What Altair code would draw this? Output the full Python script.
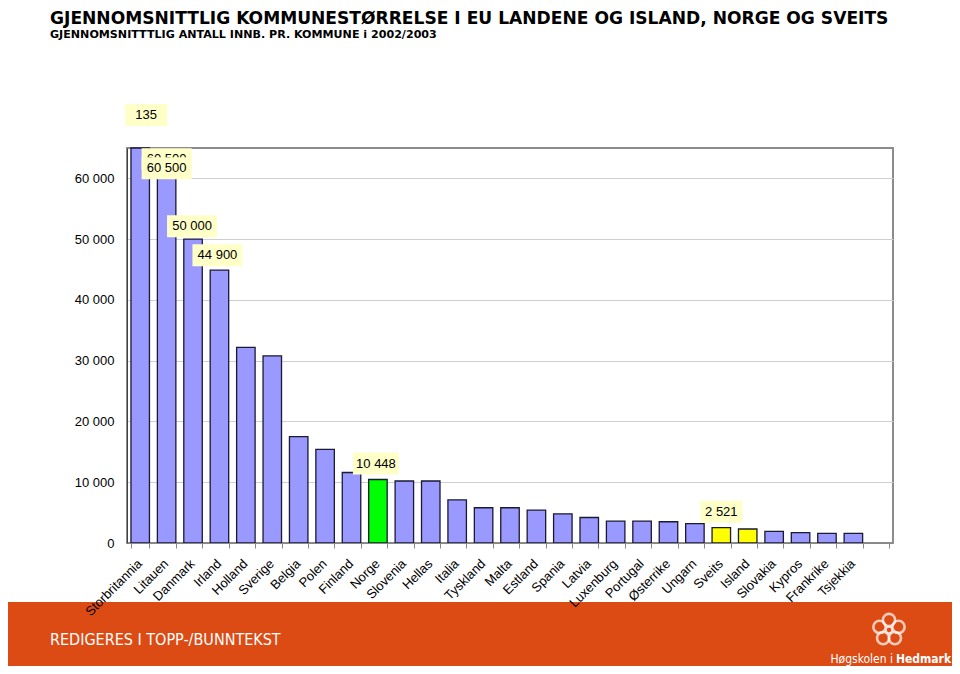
import altair as alt
import pandas as pd
import numpy as np

# ---------------- data ----------------
COUNTRIES = ["Storbritannia", "Litauen", "Danmark", "Irland", "Holland", "Sverige",
             "Belgia", "Polen", "Finland", "Norge", "Slovenia", "Hellas", "Italia",
             "Tyskland", "Malta", "Estland", "Spania", "Latvia", "Luxenburg",
             "Portugal", "Østerrike", "Ungarn", "Sveits", "Island", "Slovakia",
             "Kypros", "Frankrike", "Tsjekkia"]
VALUES = [135000, 60500, 50000, 44900, 32200, 30800, 17500, 15400, 11600, 10448,
          10200, 10200, 7100, 5800, 5800, 5400, 4800, 4200, 3600, 3600, 3500,
          3200, 2521, 2300, 1900, 1700, 1600, 1600]
Y_TICKS = [0, 10000, 20000, 30000, 40000, 50000, 60000]

# data labels drawn on the chart (category, text)
LABEL_CATS = ["Storbritannia", "Litauen", "Litauen", "Danmark", "Irland", "Norge", "Sveits"]
LABEL_TEXTS = ["135", "60 500", "60 500", "50 000", "44 900", "10 448", "2 521"]

TITLE = "GJENNOMSNITTLIG KOMMUNESTØRRELSE I EU LANDENE OG ISLAND, NORGE OG SVEITS"
SUBTITLE = "GJENNOMSNITTTLIG ANTALL INNB. PR. KOMMUNE i 2002/2003"
FOOTER = "REDIGERES I TOPP-/BUNNTEKST"

# ---------------- styles ----------------
HIGHLIGHT = {"Norge": "#00FF00", "Sveits": "#FFFF00", "Island": "#FFFF00"}
BAR_COLOR = "#9999FF"
ORANGE = "#DC4B14"
YMAX = 65000
W, H = 766, 395
# per-label (dx, dy, box width) offsets in pixels
LABEL_STYLE = [(6, -33, 42), (0, -16, 50), (0, -7, 50), (-1, -13, 50),
               (-2, -15, 50), (-2, -16, 46), (0, -16, 42)]

df = pd.DataFrame({"land": COUNTRIES, "verdi": VALUES})
df["farge"] = [HIGHLIGHT.get(c, BAR_COLOR) for c in COUNTRIES]

x_domain = COUNTRIES + [" "]
x_enc = alt.X("land:N", sort=x_domain,
              scale=alt.Scale(domain=x_domain, paddingInner=0.3, paddingOuter=0.15),
              axis=alt.Axis(title=None, labelAngle=-45, labelFont="Liberation Sans",
                            labelFontSize=13, labelColor="black", labelPadding=9,
                            labelOffset=-5, zindex=2,
                            labelLimit=0, tickBand="extent", tickColor="#888888",
                            tickSize=5, domainColor="#888888", grid=False))
y_scale = alt.Scale(domain=[0, YMAX], clamp=True, nice=False, zero=True)
y_enc = alt.Y("verdi:Q", scale=y_scale,
              axis=alt.Axis(title=None, values=Y_TICKS, grid=True, gridColor="#CFCFCF",
                            gridWidth=1, ticks=False, labelPadding=13,
                            labelFont="Liberation Sans", labelFontSize=13,
                            labelColor="black", domainColor="#404040",
                            labelExpr="replace(format(datum.value, ',d'), regexp(',', 'g'), ' ')"))

bars = alt.Chart(df).mark_bar(stroke="#1a1a33", strokeWidth=1.3).encode(
    x=x_enc, y=y_enc, color=alt.Color("farge:N", scale=None))

layers = [bars]

for i, (cat, txt) in enumerate(zip(LABEL_CATS, LABEL_TEXTS)):
    dx, dy, bw = LABEL_STYLE[i]
    ldf = pd.DataFrame({"land": [cat], "verdi": [VALUES[COUNTRIES.index(cat)]], "tekst": [txt]})
    box = alt.Chart(ldf).mark_tick(color="#FFFFC8", opacity=1, size=bw, thickness=22,
                                   orient="horizontal", xOffset=dx, yOffset=dy).encode(
        x=alt.X("land:N", sort=x_domain), y=alt.Y("verdi:Q"))
    lab = alt.Chart(ldf).mark_text(font="Liberation Sans", fontSize=13, color="black",
                                   align="center", baseline="middle",
                                   dx=dx, dy=dy).encode(
        x=alt.X("land:N", sort=x_domain), y=alt.Y("verdi:Q"), text="tekst:N")
    layers += [box, lab]

# ---------------- page decorations ----------------
band = alt.Chart(pd.DataFrame({"a": [0]})).mark_rect(color=ORANGE).encode(
    x=alt.value(-119), x2=alt.value(W + 59), y=alt.value(454), y2=alt.value(530))

title = alt.Chart(pd.DataFrame({"t": [TITLE]})).mark_text(
    font="DejaVu Sans", fontWeight="bold", fontSize=17.1, align="left",
    baseline="alphabetic", color="black", limit=0).encode(
    x=alt.value(-77), y=alt.value(-124), text="t:N")
subtitle = alt.Chart(pd.DataFrame({"t": [SUBTITLE]})).mark_text(
    font="DejaVu Sans", fontWeight="bold", fontSize=11.1, align="left",
    baseline="alphabetic", color="black", limit=0).encode(
    x=alt.value(-77), y=alt.value(-110), text="t:N")
footer = alt.Chart(pd.DataFrame({"t": [FOOTER]})).mark_text(
    font="DejaVu Sans Condensed, Liberation Sans", fontSize=16, align="left",
    baseline="alphabetic", color="white").encode(
    x=alt.value(-77), y=alt.value(497), text="t:N")
logo1 = alt.Chart(pd.DataFrame({"t": ["Høgskolen i"]})).mark_text(
    font="DejaVu Sans Condensed, Liberation Sans", fontSize=12, align="right",
    baseline="alphabetic", color="white").encode(
    x=alt.value(766), y=alt.value(515), text="t:N")
logo2 = alt.Chart(pd.DataFrame({"t": ["Hedmark"]})).mark_text(
    font="DejaVu Sans Condensed, Liberation Sans", fontWeight="bold", fontSize=12,
    align="left", baseline="alphabetic", color="white").encode(
    x=alt.value(769), y=alt.value(515), text="t:N")

ang = np.deg2rad(np.arange(5) * 72 - 90)
rings = []
for a in ang:
    rings.append(alt.Chart(pd.DataFrame({"a": [0]})).mark_point(
        shape="circle", filled=False, stroke="white", strokeWidth=2.6, size=150).encode(
        x=alt.value(float(762 + 10 * np.cos(a))), y=alt.value(float(482 + 10 * np.sin(a)))))
rings.append(alt.Chart(pd.DataFrame({"a": [0]})).mark_point(
    shape="circle", filled=False, stroke="white", strokeWidth=2, size=40).encode(
    x=alt.value(762), y=alt.value(482)))

chart = alt.layer(band, *layers, title, subtitle, footer, logo1, logo2, *rings).properties(
    width=W, height=H,
    autosize=alt.AutoSizeParams(type="none"),
    padding={"left": 119, "top": 140, "right": 59, "bottom": 123},
    background="white",
).configure_view(stroke="#8C8C8C", strokeWidth=2)

chart.save("out.html", embed_options={"renderer": "svg", "actions": False})
